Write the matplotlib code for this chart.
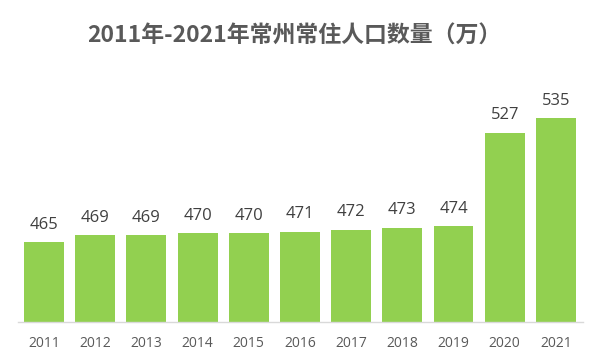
import matplotlib
matplotlib.use("Agg")
import matplotlib.pyplot as plt

years = ["2011", "2012", "2013", "2014", "2015", "2016", "2017", "2018", "2019", "2020", "2021"]
population = [465, 469, 469, 470, 470, 471, 472, 473, 474, 527, 535]
title = "2011年-2021年常州常住人口数量（万）"

plt.rcParams['font.family'] = ['Open Sans', 'Noto Sans CJK SC', 'DejaVu Sans']

fig = plt.figure(figsize=(6, 3.6), dpi=100)
ax = fig.add_axes([18/600, 38/360, 565/600, 262/360])
x = list(range(len(years)))
bars = ax.bar(x, population, width=0.78, color="#92D050", zorder=2)
ax.set_ylim(420, 568)
ax.set_xlim(-0.51, 10.53)
for xi, v in zip(x, population):
    ax.annotate(str(v), (xi, v), xytext=(0, 7), textcoords="offset points",
                ha="center", va="bottom", fontsize=12, color="#404040")
ax.set_xticks(x)
ax.set_xticklabels(years, fontsize=10, color="#595959")
ax.tick_params(axis="x", length=0, pad=10)
ax.set_yticks([])
for s in ["top", "right", "left"]:
    ax.spines[s].set_visible(False)
ax.spines["bottom"].set_color("#D9D9D9")
ax.spines["bottom"].set_linewidth(1)
fig.text(294/600, 1 - 36/360, title, ha="center", va="center", fontsize=16.5,
         fontweight="bold", color="#595959",
         family=['Noto Sans CJK SC', 'DejaVu Sans'])
fig.savefig("out.png", dpi=100)
